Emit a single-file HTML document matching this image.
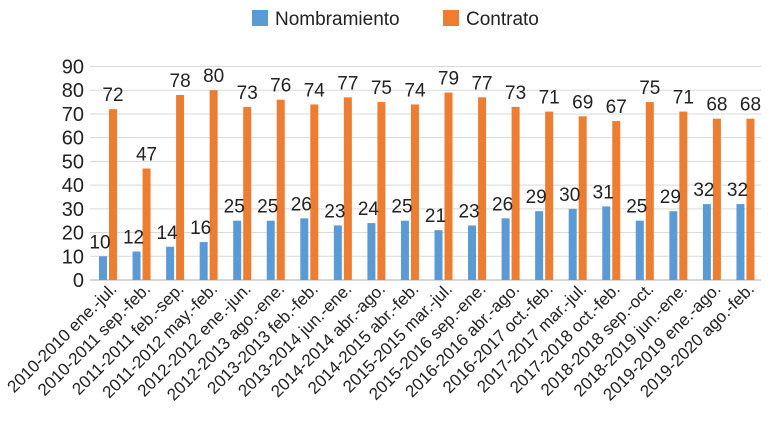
<!DOCTYPE html>
<html><head><meta charset="utf-8"><style>
body{margin:0;background:#fff;width:784px;height:425px;overflow:hidden;font-family:"Liberation Sans",sans-serif;}
</style></head><body>
<svg id="c" width="784" height="425"></svg>
<script>
const categories=["2010-2010 ene.-jul.","2010-2011 sep.-feb.","2011-2011 feb.-sep.","2011-2012 may.-feb.","2012-2012 ene.-jun.","2012-2013 ago.-ene.","2013-2013 feb.-feb.","2013-2014 jun.-ene.","2014-2014 abr.-ago.","2014-2015 abr.-feb.","2015-2015 mar.-jul.","2015-2016 sep.-ene.","2016-2016 abr.-ago.","2016-2017 oct.-feb.","2017-2017 mar.-jul.","2017-2018 oct.-feb.","2018-2018 sep.-oct.","2018-2019 jun.-ene.","2019-2019 ene.-ago.","2019-2020 ago.-feb."];
const nombramiento=[10,12,14,16,25,25,26,23,24,25,21,23,26,29,30,31,25,29,32,32];
const contrato=[72,47,78,80,73,76,74,77,75,74,79,77,73,71,69,67,75,71,68,68];
const yTicks=[0,10,20,30,40,50,60,70,80,90];
const NS="http://www.w3.org/2000/svg";
const svg=document.getElementById('c');
const x0=90,x1=761,y0=280,yTop=66.5,yMax=90;
const step=(x1-x0)/categories.length;
const y=v=>y0-(v/yMax)*(y0-yTop);
function mk(t,a){const e=document.createElementNS(NS,t);for(const k in a)e.setAttribute(k,a[k]);svg.appendChild(e);return e;}
yTicks.forEach(t=>{
 const g=mk('line',{x1:x0,x2:x1,y1:y(t),y2:y(t),stroke:t===0?'#c8c8c8':'#d9d9d9','stroke-width':t===0?1.5:1});
 
 
 const l=mk('text',{x:84,y:y(t)+7,'text-anchor':'end','font-size':20,fill:'#222'});l.textContent=t;
 
 
});
categories.forEach((c,i)=>{
 const cx=x0+i*step;
 const b=mk('rect',{x:cx+9,y:y(nombramiento[i]),width:8,height:y0-y(nombramiento[i]),fill:'#5b9bd5'});
 
 
 const o=mk('rect',{x:cx+19,y:y(contrato[i]),width:8,height:y0-y(contrato[i]),fill:'#ed7d31'});
 
 
 const t1=mk('text',{x:cx+10,y:y(nombramiento[i])-8,'text-anchor':'middle','font-size':19,fill:'#222'});t1.textContent=nombramiento[i];
 
 
 const t2=mk('text',{x:cx+23,y:y(contrato[i])-8,'text-anchor':'middle','font-size':19,fill:'#222'});t2.textContent=contrato[i];
 
 
 const xl=mk('text',{x:0,y:0,'text-anchor':'end','font-size':17,fill:'#222',transform:`translate(${cx+step/2+11},${y0+10}) rotate(-45)`});xl.textContent=c;
 
 
});
const lg=[['Nombramiento','#5b9bd5',252],['Contrato','#ed7d31',443]];
lg.forEach(([n,col,lx])=>{
 const r=mk('rect',{x:lx,y:10,width:16,height:16,fill:col});
 
 
 const t=mk('text',{x:lx+23,y:25,'font-size':19,fill:'#222'});t.textContent=n;
 
 
});
</script>
</body></html>
